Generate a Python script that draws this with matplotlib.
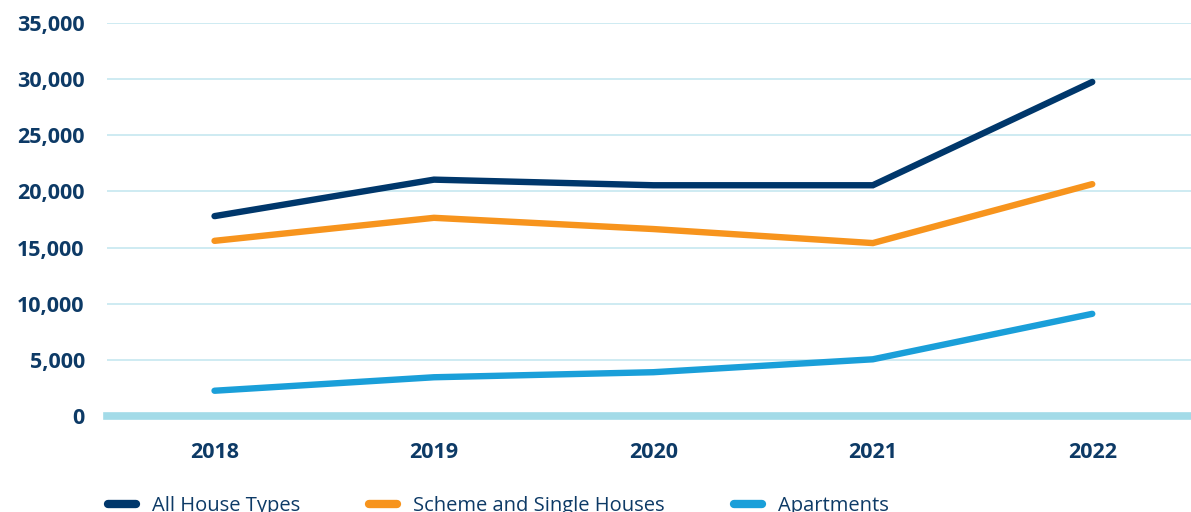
import matplotlib.pyplot as plt
from matplotlib.ticker import FuncFormatter

years = ["2018", "2019", "2020", "2021", "2022"]
all_types = [17800, 21050, 20550, 20550, 29750]
scheme_single = [15600, 17650, 16650, 15400, 20650]
apartments = [2250, 3450, 3900, 5050, 9100]

navy = "#00376b"
orange = "#f7941d"
sky = "#1a9fd9"
text_col = "#0d3a66"

plt.rcParams['font.family'] = ['Open Sans', 'DejaVu Sans']

fig = plt.figure(figsize=(11.91, 5.12), dpi=100)
ax = fig.add_axes([107 / 1191, 1 - 416 / 512, 1 - 107 / 1191, 393 / 512])

x = range(len(years))
ax.plot(x, all_types, color=navy, lw=4.6, solid_capstyle='round', solid_joinstyle='miter', label="All House Types", zorder=4)
ax.plot(x, scheme_single, color=orange, lw=4.6, solid_capstyle='round', solid_joinstyle='miter', label="Scheme and Single Houses", zorder=4)
ax.plot(x, apartments, color=sky, lw=4.6, solid_capstyle='round', solid_joinstyle='miter', label="Apartments", zorder=4)

ax.set_xlim(-0.49, 4.45)
ax.set_ylim(0, 35000)
ax.set_yticks(range(0, 35001, 5000))
ax.yaxis.set_major_formatter(FuncFormatter(lambda v, p: f"{int(v):,}"))
ax.set_xticks(list(x))
ax.set_xticklabels(years)

ax.grid(axis='y', color="#c6e7f0", lw=1.2)
ax.set_axisbelow(True)
ax.axhline(0, color="#a3dbe8", lw=5.5, zorder=3, clip_on=False)

for s in ax.spines.values():
    s.set_visible(False)
ax.tick_params(length=0, colors=text_col)
ax.tick_params(axis='y', pad=16)
ax.tick_params(axis='x', pad=19)
for lab in ax.get_yticklabels() + ax.get_xticklabels():
    lab.set_fontsize(15.5)
    lab.set_fontweight('bold')
    lab.set_color(text_col)

leg = fig.legend(loc='center left', bbox_to_anchor=(90 / 1191, 1 - 506 / 512), ncol=3,
                 frameon=False, fontsize=14.5, handlelength=1.4, handletextpad=0.8,
                 columnspacing=3.4, labelcolor=text_col)
for h in leg.legend_handles:
    h.set_linewidth(6)
    h.set_solid_capstyle('round')

fig.savefig("out.png", dpi=100)
